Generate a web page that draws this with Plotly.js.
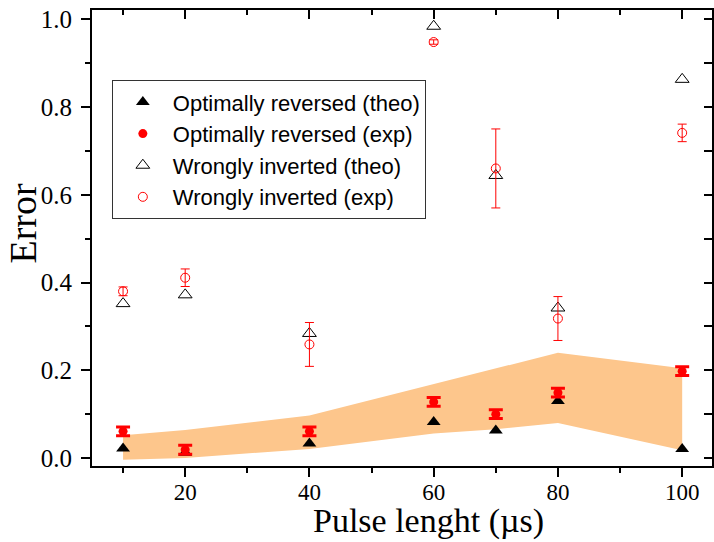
<!DOCTYPE html>
<html>
<head>
<meta charset="utf-8">
<script src="https://cdn.plot.ly/plotly-3.0.1.min.js"></script>
<style>html,body{margin:0;padding:0;background:#fff;}#chart{width:714px;height:542px;}</style>
</head>
<body>
<div id="chart"></div>
<script>
const pulse = [10, 20, 40, 60, 70, 80, 100];
const optTheo = [0.022, 0.012, 0.033, 0.082, 0.063, 0.13, 0.021];
const optExp = [0.061, 0.019, 0.061, 0.128, 0.100, 0.149, 0.198];
const optExpErr = [0.01, 0.01, 0.01, 0.01, 0.01, 0.01, 0.01];
const wrongTheo = [0.352, 0.372, 0.284, 0.984, 0.644, 0.342, 0.863];
const wrongExp = [0.380, 0.411, 0.259, 0.948, 0.660, 0.318, 0.741];
const wrongExpErr = [0.01, 0.02, 0.05, 0.005, 0.09, 0.05, 0.02];
const bandUpper = [0.052, 0.064, 0.097, 0.168, 0.204, 0.240, 0.205];
const bandLower = [-0.004, 0.000, 0.021, 0.056, 0.066, 0.080, 0.018];

const bandX = pulse.concat(pulse.slice().reverse());
const bandY = bandUpper.concat(bandLower.slice().reverse());

const traces = [
  {x: bandX, y: bandY, type: 'scatter', mode: 'lines', fill: 'toself',
   fillcolor: 'rgb(253,198,140)', line: {width: 0, color: 'rgba(0,0,0,0)'},
   showlegend: false, hoverinfo: 'skip'},
  {x: pulse, y: optTheo, type: 'scatter', mode: 'markers', name: 'Optimally reversed (theo)',
   marker: {symbol: 'triangle-up', size: 12, color: '#000'}},
  {x: pulse, y: optExp, type: 'scatter', mode: 'markers', name: 'Optimally reversed (exp)',
   marker: {symbol: 'circle', size: 9, color: '#ff0000'},
   error_y: {type: 'data', array: optExpErr, visible: true, color: '#ff0000', thickness: 3, width: 7}},
  {x: pulse, y: wrongTheo, type: 'scatter', mode: 'markers', name: 'Wrongly inverted (theo)',
   marker: {symbol: 'triangle-up-open', size: 12, color: '#000', line: {width: 1}}},
  {x: pulse, y: wrongExp, type: 'scatter', mode: 'markers', name: 'Wrongly inverted (exp)',
   marker: {symbol: 'circle-open', size: 9, color: '#ff0000', line: {width: 1}},
   error_y: {type: 'data', array: wrongExpErr, visible: true, color: '#ff0000', thickness: 1, width: 4.5}},
  {x: [], y: [], xaxis: 'x2', yaxis: 'y2', type: 'scatter', showlegend: false}
];

const serif = 'Liberation Serif, Times New Roman, serif';
const xr = [5, 104.8], yr = [-0.018, 1.021];

const layout = {
  width: 714, height: 542,
  margin: {l: 92, r: 2, t: 10, b: 76},
  paper_bgcolor: '#fff', plot_bgcolor: '#fff',
  showlegend: true,
  legend: {x: 0.032, y: 0.846, xanchor: 'left', yanchor: 'top',
    bgcolor: '#fff', bordercolor: '#333', borderwidth: 1,
    font: {family: 'Liberation Sans, Arial, sans-serif', size: 22, color: '#000'},
    itemwidth: 50, tracegroupgap: 0},
  xaxis: {range: xr, showgrid: false, zeroline: false, showline: true, linecolor: '#000', linewidth: 2,
    mirror: true, ticks: 'outside', ticklen: 9, tickwidth: 2, tickcolor: '#000',
    tick0: 0, dtick: 20, ticklabelstandoff: -5,
    minor: {dtick: 10, tick0: 0, ticks: 'outside', ticklen: 5, tickwidth: 2, tickcolor: '#000'},
    tickfont: {family: serif, size: 23, color: '#000'}},
  yaxis: {range: yr, showgrid: false, zeroline: false, showline: true, linecolor: '#000', linewidth: 2,
    mirror: true, ticks: 'outside', ticklen: 9, tickwidth: 2, tickcolor: '#000',
    tick0: 0, dtick: 0.2, tickformat: '.1f', ticklabelstandoff: 4,
    minor: {dtick: 0.1, tick0: 0, ticks: 'outside', ticklen: 5, tickwidth: 2, tickcolor: '#000'},
    tickfont: {family: serif, size: 25, color: '#000'}},
  xaxis2: {range: xr, overlaying: 'x', side: 'top', anchor: 'y2', showgrid: false, zeroline: false,
    showline: false, showticklabels: false, ticks: 'inside', ticklen: 9, tickwidth: 2, tickcolor: '#000',
    tick0: 0, dtick: 20,
    minor: {dtick: 10, tick0: 0, ticks: 'inside', ticklen: 5, tickwidth: 2, tickcolor: '#000'}},
  yaxis2: {range: yr, overlaying: 'y', side: 'right', anchor: 'x2', showgrid: false, zeroline: false,
    showline: false, showticklabels: false, ticks: 'inside', ticklen: 8, tickwidth: 2, tickcolor: '#000',
    tick0: 0, dtick: 0.2,
    minor: {dtick: 0.1, tick0: 0, ticks: 'inside', ticklen: 8, tickwidth: 2, tickcolor: '#000'}},
  annotations: [
    {text: 'Pulse lenght (\u00b5s)', xref: 'paper', yref: 'paper', x: 0.542, y: -0.1665,
     xanchor: 'center', yanchor: 'bottom', showarrow: false,
     font: {family: serif, size: 34, color: '#000'}},
    {text: 'Error', xref: 'paper', yref: 'paper', x: -0.112, y: 0.533, textangle: -90,
     xanchor: 'center', yanchor: 'middle', showarrow: false,
     font: {family: serif, size: 38, color: '#000'}}
  ]
};

Plotly.newPlot('chart', traces, layout, {displayModeBar: false, staticPlot: true});
</script>
</body>
</html>
